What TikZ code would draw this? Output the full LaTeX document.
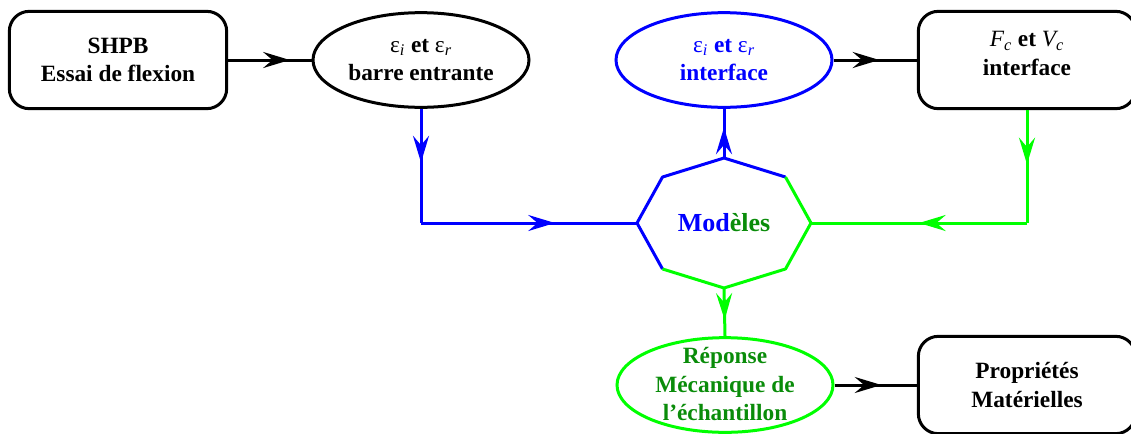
\documentclass[tikz,border=0pt]{standalone}
\usepackage{amssymb,amsmath}
\usepackage{fontspec}
\setmainfont{Liberation Serif}
\usetikzlibrary{arrows.meta,decorations.markings,shapes.geometric,calc}
\definecolor{txtgreen}{RGB}{10,140,10}
\newcommand{\eps}[1]{{\mdseries ε\textsubscript{\itshape #1}}}
\newcommand{\vari}[2]{{\mdseries\itshape #1\textsubscript{#2}}}
\tikzset{
  every node/.style={font=\fontsize{17.5}{21.5}\selectfont\bfseries},
  box/.style={draw,line width=2.25pt,rounded corners=15pt,minimum width=163pt,minimum height=73pt,align=center,inner sep=0pt},
  oval/.style={draw,ellipse,line width=2.25pt,minimum width=162pt,minimum height=71pt,align=center,inner sep=0pt},
  link/.style={line width=2.25pt},
  midarrow/.style={postaction=decorate,decoration={markings,
    mark=at position #1 with {\arrow{Stealth[length=20pt,width=12pt,inset=7pt]}}}}
}
\begin{document}
\begin{tikzpicture}[x=0.75pt,y=-0.75pt]
\clip (0,0) rectangle (1131,433);
%блоки
\node[box] (shpb) at (118,60) {SHPB\\Essai de flexion};
\node[oval] (barre) at (421,60) {\eps{i} et \eps{r}\\barre entrante};
\node[oval,draw=blue,text=blue] (inter) at (724,60) {\eps{i} et \eps{r}\\interface};
\node[box] (fc) at (1027,60) {\vari{F}{c} et \vari{V}{c}\\interface\\[-12pt]~};
\node[font=\fontsize{19.5}{23}\selectfont\bfseries,inner sep=0pt] (mod) at (724,223)
  {\textcolor{blue}{Mod}\textcolor{txtgreen}{èles}};
\node[oval,draw=green] (rep) at (725,385) {};
\node[align=center,text=txtgreen,inner sep=0pt] (reptxt) at (725,384)
  {Réponse\\Mécanique de\\l'échantillon};
\node[box] (prop) at (1027,385) {Propriétés\\Matérielles};
%восьмиугольник
\foreach \i in {0,...,7}
  \coordinate (o\i) at ($(mod)+(\i*45:65.25pt and 48.75pt)$);
\draw[link,blue,line join=round] (o1) -- (o2) -- (o3) -- (o4) -- (o5);
\draw[link,green,line join=round] (o1) -- (o0) -- (o7) -- (o6) -- (o5);
%связи
\draw[link,midarrow=0.74] (shpb) -- (barre);
\draw[link,midarrow=0.55] (inter) -- (fc);
\coordinate (c1) at (barre.south |- mod);
\draw[link,blue,midarrow=0.47] (barre.south) -- (c1);
\draw[link,blue,midarrow=0.62] (c1) -- (o4);
\draw[link,blue,midarrow=0.62] (o2) -- (inter.south);
\coordinate (c2) at (fc.south |- mod);
\draw[link,green,midarrow=0.48] (fc.south) -- (c2);
\draw[link,green,midarrow=0.5] (c2) -- (o0);
\draw[link,green,midarrow=0.66] (o6) -- (rep.north);
\draw[link,midarrow=0.57] (rep) -- (prop);
\end{tikzpicture}
\end{document}
